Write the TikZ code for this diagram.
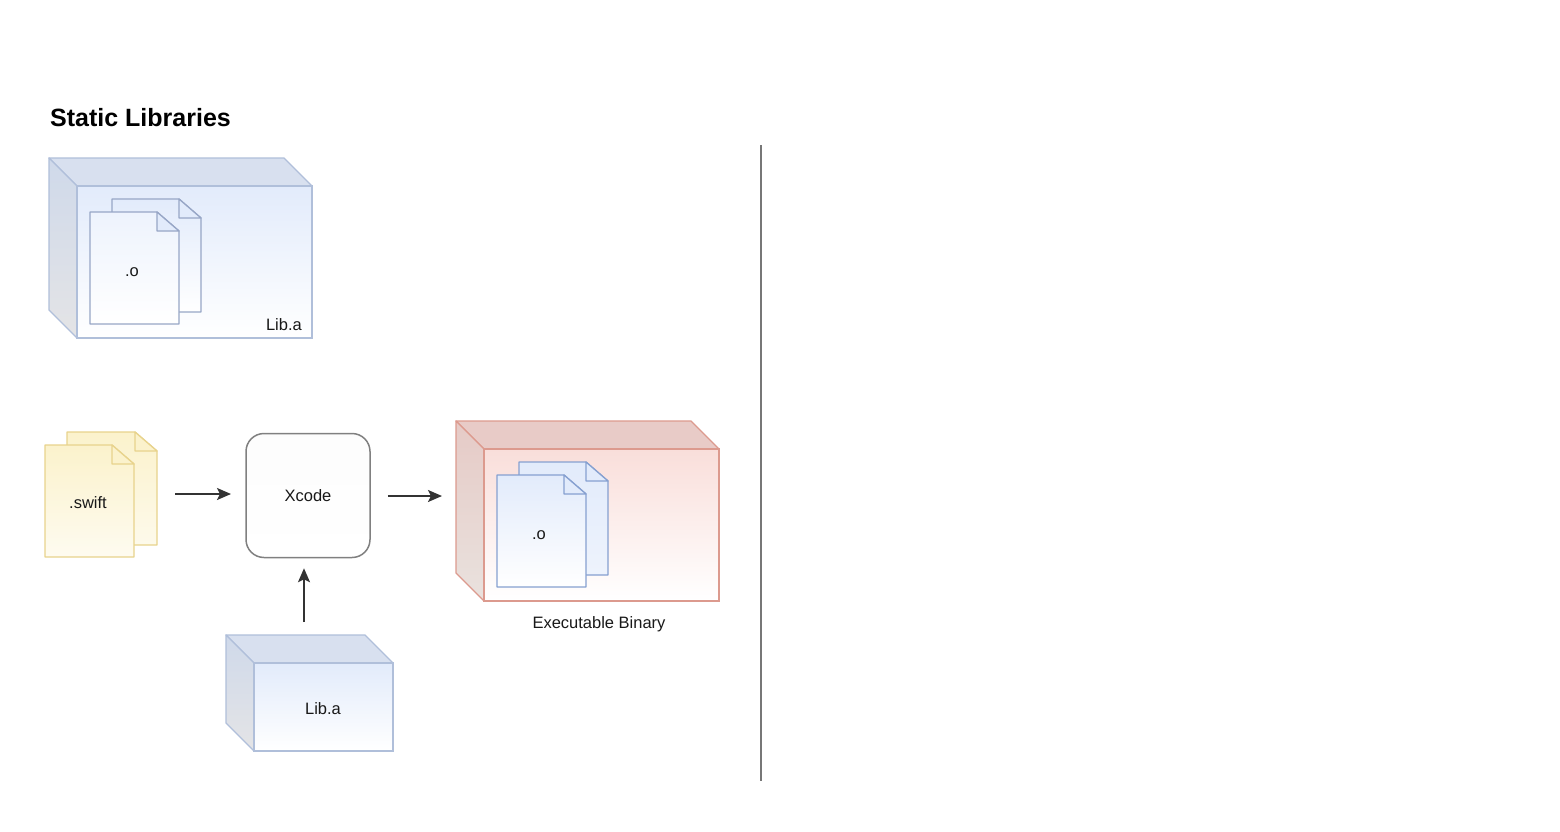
\documentclass[tikz,border=0pt]{standalone}
\usepackage{fontspec}
\setmainfont{Liberation Sans}
\usetikzlibrary{arrows.meta,calc}
\definecolor{bluefront}{HTML}{E2EBFB}
\definecolor{bluetop}{HTML}{D8E0EF}
\definecolor{blueside}{HTML}{CFD9EA}
\definecolor{bluesideb}{HTML}{E4E4E6}
\definecolor{blueline}{HTML}{B0BFDA}
\definecolor{docline}{HTML}{97A6C6}
\definecolor{docline2}{HTML}{86A0D0}
\definecolor{redfront}{HTML}{F9DEDA}
\definecolor{redtop}{HTML}{E8CBC7}
\definecolor{redside}{HTML}{E6CAC6}
\definecolor{redsideb}{HTML}{E9E2DE}
\definecolor{redline}{HTML}{DC9A8E}
\definecolor{yelfront}{HTML}{FBF2CC}
\definecolor{yelline}{HTML}{E8D38C}
\definecolor{greyline}{HTML}{777777}
\tikzset{
  lbl/.style={font=\fontsize{16.5}{19}\selectfont,text=black!90,inner sep=0pt},
  ttl/.style={font=\fontsize{25}{30}\selectfont\bfseries,text=black,inner sep=0pt,anchor=west},
  arr/.style={draw=black!80,line width=1.9pt,-{Stealth[length=14pt,width=12pt,inset=3pt]}},
  divider/.style={draw=greyline,line width=2pt},
  xbox/.style={draw=black!50,line width=1.5pt,rounded corners=18pt,top color=black!1,bottom color=white,
     minimum width=124pt,minimum height=124pt,inner sep=0pt,font=\fontsize{16.5}{19}\selectfont,text=black!90},
}
% cube: name, x0 y0 (front top-left), x1 y1 (front bottom-right), colour prefix
\newcommand{\cube}[6]{%
  \filldraw[draw=#6line,line width=1.3pt,fill=#6top,line join=round] (#2-28,#3-28) -- (#4-28,#3-28) -- (#4,#3) -- (#2,#3) -- cycle;
  \draw[draw=#6line,line width=1.3pt,top color=#6side,bottom color=#6sideb,line join=round] (#2-28,#3-28) -- (#2,#3) -- (#2,#5) -- (#2-28,#5-28) -- cycle;
  \node[draw=#6line,line width=1.3pt,top color=#6front,bottom color=white,inner sep=0pt,outer sep=0pt,
        minimum width=#4-#2,minimum height=#5-#3] (#1) at ({(#2+#4)/2},{(#3+#5)/2}) {};
}
% document sheet: x0 y0 x1 y1, top col, bottom col, line col, fold col
\newcommand{\sheet}[8]{%
  \draw[draw=#7,line width=1.3pt,top color=#5,bottom color=#6,line join=round] (#1,#2) -- (#3-22,#2) -- (#3,#2+19) -- (#3,#4) -- (#1,#4) -- cycle;
  \filldraw[draw=#7,line width=1.3pt,fill=#8,line join=round] (#3-22,#2) -- (#3,#2+19) -- (#3-22,#2+19) -- cycle;
}
\begin{document}
\begin{tikzpicture}[x=1pt,y=-1pt]
\useasboundingbox (0,0) rectangle (1560,832);
\fill[white] (0,0) rectangle (1560,832);

\node[ttl] (title) at (50,117.5) {Static Libraries};

% upper Lib.a
\cube{libtop}{77}{186}{312}{338}{blue}
\sheet{112}{199}{201}{312}{bluefront}{white}{docline}{bluefront}
\sheet{90}{212}{179}{324}{bluefront!60}{white}{docline}{bluefront}
\node[lbl] (objtop) at (132,272) {.o};
\node[lbl,anchor=east] (libtoplabel) at (302,325) {Lib.a};

% swift
\sheet{67}{432}{157}{545}{yelfront}{white!60!yelfront}{yelline}{yelfront}
\sheet{45}{445}{134}{557}{yelfront}{white!70!yelfront}{yelline}{yelfront}
\node[lbl] (swift) at (88,502.5) {.swift};

% Xcode
\node[xbox] (xcode) at (308,495.5) {Xcode};

% Executable binary
\cube{binary}{484}{449}{719}{601}{red}
\sheet{519}{462}{608}{575}{bluefront}{white!40!bluefront}{docline2}{bluefront}
\sheet{497}{475}{586}{587}{bluefront}{white}{docline2}{bluefront}
\node[lbl] (objbin) at (539,535) {.o};
\node[lbl] (binlabel) at (599,624) {Executable Binary};

% lower Lib.a
\cube{liblow}{254}{663}{393}{751}{blue}
\node[lbl] (liblowlabel) at (323,708.5) {Lib.a};

% connectors
\coordinate (swiftout) at (175,494);
\coordinate (xcodein) at (231,494);
\coordinate (binin) at (442,496);
\coordinate (libout) at (304,622);
\draw[arr] (swiftout) -- (xcodein);
\draw[arr,shorten <=17pt] (xcode.east |- binin) -- (binin);
\draw[arr,shorten >=10pt] (libout) -- (libout |- xcode.south);

% divider
\coordinate (divtop) at (761,145);
\coordinate (divbot) at (761,781);
\draw[divider] (divtop) -- (divbot);
\end{tikzpicture}
\end{document}
